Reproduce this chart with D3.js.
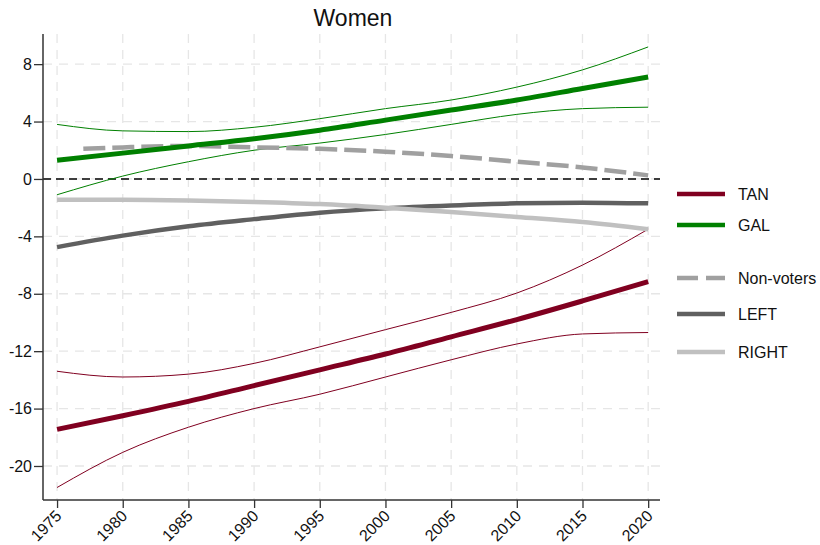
<!DOCTYPE html>
<html>
<head>
<meta charset="utf-8">
<script src="https://cdn.jsdelivr.net/npm/d3@7"></script>
<style>
  body { margin: 0; background: #fff; }
  svg { font-family: "Liberation Sans", Arial, sans-serif; }
</style>
</head>
<body>
<div id="chart"></div>
<script>
// values
const years = [1975, 1980, 1985, 1990, 1995, 2000, 2005, 2010, 2015, 2020];
const tan   = [-17.45, -16.5, -15.5, -14.4, -13.3, -12.2, -11.0, -9.8, -8.5, -7.15];
const tanHi = [-13.4, -13.8, -13.6, -12.85, -11.7, -10.5, -9.3, -7.95, -6.0, -3.5];
const tanLo = [-21.5, -19.05, -17.3, -16.0, -15.0, -13.8, -12.6, -11.5, -10.8, -10.7];
const gal   = [1.3, 1.8, 2.3, 2.8, 3.4, 4.1, 4.8, 5.5, 6.3, 7.1];
const galHi = [3.8, 3.35, 3.3, 3.6, 4.2, 4.9, 5.5, 6.4, 7.6, 9.2];
const galLo = [-1.1, 0.2, 1.2, 2.0, 2.5, 3.1, 3.8, 4.5, 4.9, 5.0];
const nonVoterYears = [1977, 1980, 1985, 1990, 1995, 2000, 2005, 2010, 2015, 2020];
const nonVoters = [2.1, 2.2, 2.3, 2.2, 2.1, 1.9, 1.6, 1.2, 0.8, 0.25];
const left  = [-4.75, -3.95, -3.3, -2.8, -2.35, -2.05, -1.85, -1.7, -1.65, -1.7];
const right = [-1.45, -1.45, -1.5, -1.6, -1.75, -2.0, -2.3, -2.65, -3.0, -3.5];
const xTicks = years;
const yTicks = [-20, -16, -12, -8, -4, 0, 4, 8];

const width = 820, height = 545;
const margin = { top: 34, left: 43, right: 160, bottom: 45 };

const svg = d3.select("#chart").append("svg")
  .attr("width", width)
  .attr("height", height);

const x = d3.scaleLinear().domain([1973.93, 2020.9]).range([margin.left, width - margin.right]);
const y = d3.scaleLinear().domain([-22.37, 10.1]).range([height - margin.bottom, margin.top]);

// grid
svg.append("g")
  .selectAll("line")
  .data(xTicks)
  .join("line")
  .attr("x1", d => x(d)).attr("x2", d => x(d))
  .attr("y1", margin.top).attr("y2", height - margin.bottom)
  .attr("stroke", "#e6e6e6").attr("stroke-width", 1.3)
  .attr("stroke-dasharray", "9,7");

svg.append("g")
  .selectAll("line")
  .data(yTicks)
  .join("line")
  .attr("x1", margin.left).attr("x2", width - margin.right)
  .attr("y1", d => y(d)).attr("y2", d => y(d))
  .attr("stroke", "#e6e6e6").attr("stroke-width", 1.3)
  .attr("stroke-dasharray", "9,7");

// zero reference line
svg.append("line")
  .attr("x1", margin.left).attr("x2", width - margin.right)
  .attr("y1", y(0)).attr("y2", y(0))
  .attr("stroke", "#000").attr("stroke-width", 1.5)
  .attr("stroke-dasharray", "8,5");

const line = (xs, vs) => d3.line()
  .x((d, i) => x(xs[i]))
  .y(d => y(d))
  .curve(d3.curveMonotoneX)(vs);

const series = [
  { vals: tanHi, xs: years, color: "#800020", w: 1, dash: null },
  { vals: tanLo, xs: years, color: "#800020", w: 1, dash: null },
  { vals: galHi, xs: years, color: "#008000", w: 1, dash: null },
  { vals: galLo, xs: years, color: "#008000", w: 1, dash: null },
  { vals: nonVoters, xs: nonVoterYears, color: "#a0a0a0", w: 4.5, dash: "22,7" },
  { vals: left, xs: years, color: "#606060", w: 4.5, dash: null },
  { vals: right, xs: years, color: "#c0c0c0", w: 4.5, dash: null },
  { vals: tan, xs: years, color: "#800020", w: 5, dash: null },
  { vals: gal, xs: years, color: "#008000", w: 5, dash: null }
];

svg.append("g")
  .attr("fill", "none")
  .selectAll("path")
  .data(series)
  .join("path")
  .attr("stroke", d => d.color)
  .attr("stroke-width", d => d.w)
  .attr("stroke-dasharray", d => d.dash)
  .attr("d", d => line(d.xs, d.vals));

// axes
const yAxis = svg.append("g")
  .attr("transform", `translate(${margin.left},0)`)
  .call(d3.axisLeft(y).tickValues(yTicks).tickFormat(d => String(d))
    .tickSize(9).tickPadding(2).tickSizeOuter(0));
yAxis.select(".domain").attr("stroke", "#333").attr("stroke-width", 1.5)
  .attr("d", `M0,${margin.top}V${height - margin.bottom}`);
yAxis.selectAll(".tick line").attr("stroke", "#333").attr("stroke-width", 1.3);
yAxis.selectAll(".tick text").attr("font-size", 16).attr("fill", "#111");

const xAxis = svg.append("g")
  .attr("transform", `translate(0,${height - margin.bottom})`)
  .call(d3.axisBottom(x).tickValues(xTicks).tickFormat(d3.format("d")).tickSize(8).tickSizeOuter(0));
xAxis.select(".domain").attr("stroke", "#333").attr("stroke-width", 1.5)
  .attr("d", `M${margin.left},0H${width - margin.right}`);
xAxis.selectAll(".tick line").attr("stroke", "#333").attr("stroke-width", 1.3);
xAxis.selectAll(".tick text")
  .attr("font-size", 16).attr("fill", "#111")
  .attr("text-anchor", "end")
  .attr("x", 0).attr("y", 0).attr("dy", null)
  .attr("transform", "translate(5,17) rotate(-45)");

// title
svg.append("text")
  .attr("x", 353).attr("y", 26)
  .attr("text-anchor", "middle")
  .attr("font-size", 23)
  .attr("fill", "#111")
  .text("Women");

// legend
const legendItems = [
  { label: "TAN", color: "#800020", dash: null, y: 194 },
  { label: "GAL", color: "#008000", dash: null, y: 225 },
  { label: "Non-voters", color: "#a0a0a0", dash: "21,8", y: 278 },
  { label: "LEFT", color: "#606060", dash: null, y: 314 },
  { label: "RIGHT", color: "#c0c0c0", dash: null, y: 352 }
];
const lg = svg.append("g").selectAll("g").data(legendItems).join("g");
lg.append("line")
  .attr("x1", 677).attr("x2", 725)
  .attr("y1", d => d.y).attr("y2", d => d.y)
  .attr("stroke", d => d.color).attr("stroke-width", 4.5)
  .attr("stroke-dasharray", d => d.dash);
lg.append("text")
  .attr("x", 738).attr("y", d => d.y + 6)
  .attr("font-size", 16).attr("fill", "#111")
  .text(d => d.label);
</script>
</body>
</html>
